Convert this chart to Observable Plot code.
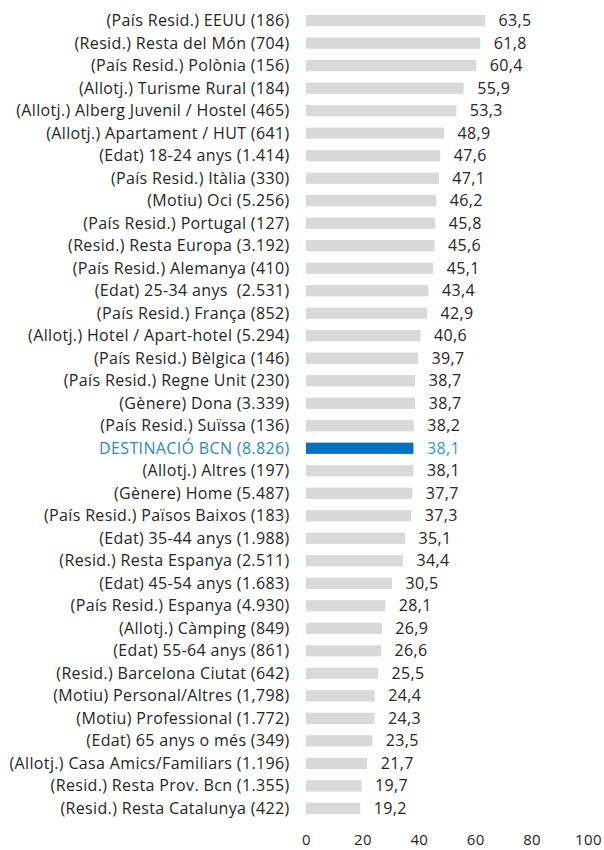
<!DOCTYPE html>
<html>
<head>
<meta charset="utf-8">
<script src="https://cdn.jsdelivr.net/npm/d3@7"></script>
<script src="https://cdn.jsdelivr.net/npm/@observablehq/plot@0.6"></script>
<style>
  body { margin: 0; background: #fff; }
  #chart svg { display: block; }
  #chart svg text { letter-spacing: 0.35px; }
</style>
</head>
<body>
<div id="chart"></div>
<script>
const categories = [
  "(País Resid.) EEUU (186)",
  "(Resid.) Resta del Món (704)",
  "(País Resid.) Polònia (156)",
  "(Allotj.) Turisme Rural (184)",
  "(Allotj.) Alberg Juvenil / Hostel (465)",
  "(Allotj.) Apartament / HUT (641)",
  "(Edat) 18-24 anys (1.414)",
  "(País Resid.) Itàlia (330)",
  "(Motiu) Oci (5.256)",
  "(País Resid.) Portugal (127)",
  "(Resid.) Resta Europa (3.192)",
  "(País Resid.) Alemanya (410)",
  "(Edat) 25-34 anys  (2.531)",
  "(País Resid.) França (852)",
  "(Allotj.) Hotel / Apart-hotel (5.294)",
  "(País Resid.) Bèlgica (146)",
  "(País Resid.) Regne Unit (230)",
  "(Gènere) Dona (3.339)",
  "(País Resid.) Suïssa (136)",
  "DESTINACIÓ BCN (8.826)",
  "(Allotj.) Altres (197)",
  "(Gènere) Home (5.487)",
  "(País Resid.) Països Baixos (183)",
  "(Edat) 35-44 anys (1.988)",
  "(Resid.) Resta Espanya (2.511)",
  "(Edat) 45-54 anys (1.683)",
  "(País Resid.) Espanya (4.930)",
  "(Allotj.) Càmping (849)",
  "(Edat) 55-64 anys (861)",
  "(Resid.) Barcelona Ciutat (642)",
  "(Motiu) Personal/Altres (1,798)",
  "(Motiu) Professional (1.772)",
  "(Edat) 65 anys o més (349)",
  "(Allotj.) Casa Amics/Familiars (1.196)",
  "(Resid.) Resta Prov. Bcn (1.355)",
  "(Resid.) Resta Catalunya (422)"
];
const values = [
  63.5, 61.8, 60.4, 55.9, 53.3, 48.9, 47.6, 47.1, 46.2, 45.8, 45.6, 45.1,
  43.4, 42.9, 40.6, 39.7, 38.7, 38.7, 38.2, 38.1, 38.1, 37.7, 37.3, 35.1,
  34.4, 30.5, 28.1, 26.9, 26.6, 25.5, 24.4, 24.3, 23.5, 21.7, 19.7, 19.2
];
const highlight = "DESTINACIÓ BCN (8.826)";
const xTicks = [0, 20, 40, 60, 80, 100];

const data = categories.map((c, i) => ({ cat: c, value: values[i], hl: c === highlight }));
const fmt = v => v.toFixed(1).replace(".", ",");

const chart = Plot.plot({
  width: 604,
  height: 850,
  marginLeft: 306,
  marginRight: 16,
  marginTop: 15,
  marginBottom: 36,
  style: { fontFamily: "'Open Sans', sans-serif", fontSize: "16px", color: "#262626", background: "#fff" },
  x: { domain: [0, 100], ticks: xTicks, tickSize: 0, tickPadding: 20, label: null },
  y: { domain: categories, axis: null, paddingInner: 0.5, paddingOuter: 0, round: false },
  marks: [
    Plot.axisX({ ticks: xTicks, tickSize: 0, tickPadding: 20, fontSize: 15, label: null }),
    Plot.barX(data, { y: "cat", x: "value", fill: d => d.hl ? "#0070C0" : "#D9D9D9" }),
    Plot.text(data, { y: "cat", x: 0, text: "cat", textAnchor: "end", dx: -17,
      fill: d => d.hl ? "#2E86C8" : "#262626", fontSize: 16 }),
    Plot.text(data, { y: "cat", x: "value", text: d => fmt(d.value), textAnchor: "start", dx: 13,
      fill: d => d.hl ? "#2E9BD6" : "#262626", fontSize: 16 })
  ]
});
document.getElementById("chart").appendChild(chart);
</script>
</body>
</html>
